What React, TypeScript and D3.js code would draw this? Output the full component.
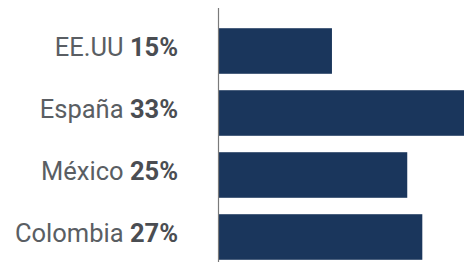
import React, { useEffect, useRef } from 'react';
import * as d3 from 'd3';

const countries = ['EE.UU', 'España', 'México', 'Colombia'];
const shares = [15, 33, 25, 27];

const App: React.FC = () => {
  const svgRef = useRef<SVGSVGElement>(null);
  const width = 464;
  const height = 271;

  useEffect(() => {
    if (!svgRef.current) return;
    const svg = d3.select(svgRef.current);
    svg.selectAll('*').remove();

    const data = countries.map((c, i) => ({ country: c, value: shares[i] }));
    const axisX = 218;

    // bands
    const y = d3.scaleBand<string>()
      .domain(countries)
      .range([20, 268])
      .paddingInner(0.265)
      .paddingOuter(0.1325);

    const x = d3.scaleLinear()
      .domain([0, 10])
      .range([0, 75.3]);

    svg.selectAll('.bar')
      .data(data)
      .enter()
      .append('rect')
      .attr('class', 'bar')
      .attr('x', axisX + 1)
      .attr('y', d => y(d.country) as number)
      .attr('width', d => x(d.value))
      .attr('height', y.bandwidth())
      .attr('fill', '#1a365c');

    // vertical axis line
    svg.append('line')
      .attr('x1', axisX + 0.5)
      .attr('x2', axisX + 0.5)
      .attr('y1', 8)
      .attr('y2', 262)
      .attr('stroke', '#7a7a7a')
      .attr('stroke-width', 1.2);

    // labels
    const labels = svg.selectAll('.label')
      .data(data)
      .enter()
      .append('text')
      .attr('class', 'label')
      .attr('x', 178)
      .attr('y', d => (y(d.country) as number) + y.bandwidth() / 2 + 5)
      .attr('text-anchor', 'end')
      .attr('font-family', 'Roboto, sans-serif')
      .attr('font-size', '25.5px')
      .attr('fill', '#5a5e63');

    labels.append('tspan').text(d => `${d.country} `);
    labels.append('tspan')
      .attr('font-weight', 'bold')
      .attr('fill', '#4a4d52')
      .text(d => `${d.value}%`);
  }, []);

  return (
    <div style={{ position: 'absolute', left: 0, top: 0 }}>
      <svg ref={svgRef} width={width} height={height} style={{ display: 'block', background: '#fff' }} />
    </div>
  );
};

export default App;
